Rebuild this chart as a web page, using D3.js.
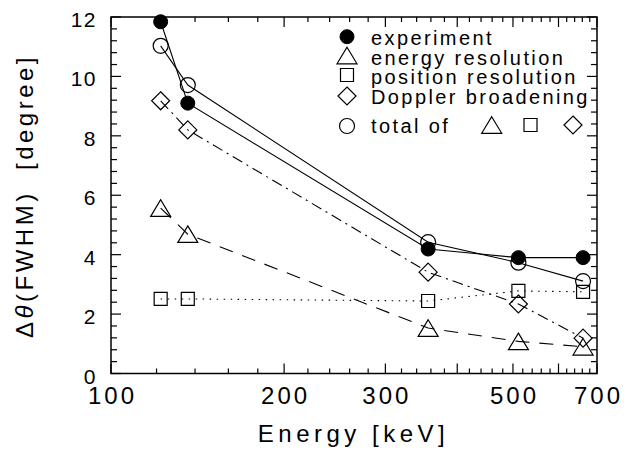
<!DOCTYPE html>
<html>
<head>
<meta charset="utf-8">
<script src="https://cdn.jsdelivr.net/npm/d3@7"></script>
<style>
  html, body { margin: 0; padding: 0; background: #fff; }
  svg { display: block; }
  text { font-family: "Liberation Sans", Arial, Helvetica, sans-serif; fill: #000; }
</style>
</head>
<body>
<svg id="chart" width="624" height="452"></svg>
<script>
// Gamma-ray energies of the calibration lines [keV]
const energies = [122, 136, 356, 511, 662];

// Angular resolution Δθ (FWHM) [degree]
const experiment = [11.84, 9.10, 4.19, 3.90, 3.90];
const energyResolution = [5.57, 4.69, 1.53, 1.08, 0.90];
const positionResolution = [2.51, 2.51, 2.44, 2.78, 2.75];
const dopplerBroadening = [9.18, 8.20, 3.41, 2.34, 1.19];
const totalOfThree = [11.03, 9.71, 4.42, 3.73, 3.11];

// Axis ticks and labels
const xTickValues = d3.range(100, 701, 20);
const xMajorTicks = [100, 200, 300, 400, 500, 600, 700];
const xTickLabels = [100, 200, 300, 500, 700];
const yTickValues = d3.range(0, 12.0001, 0.4);
const yTickLabels = [0, 2, 4, 6, 8, 10, 12];

const legendLabels = ["experiment", "energy resolution", "position resolution", "Doppler broadening", "total of"];

const svg = d3.select("#chart");
const plotLeft = 111, plotRight = 597, plotTop = 17, plotBottom = 373.5;

const x = d3.scaleLog().domain([100, 700]).range([plotLeft, plotRight]);
const y = d3.scaleLinear().domain([0, 12]).range([plotBottom, plotTop]);

const isMajorX = v => xMajorTicks.includes(v);
const isMajorY = v => Math.abs(v / 2 - Math.round(v / 2)) < 1e-6;

// Ticks on all four sides, pointing inwards
const ticks = svg.append("g").attr("stroke", "#000").attr("stroke-width", 1.2);
xTickValues.forEach(v => {
  const len = isMajorX(v) ? 10 : 5;
  const px = x(v);
  ticks.append("line").attr("x1", px).attr("x2", px).attr("y1", plotBottom).attr("y2", plotBottom - len);
  ticks.append("line").attr("x1", px).attr("x2", px).attr("y1", plotTop).attr("y2", plotTop + len);
});
yTickValues.forEach(v => {
  const len = isMajorY(v) ? 10 : 6;
  const py = y(v);
  ticks.append("line").attr("x1", plotLeft).attr("x2", plotLeft + len).attr("y1", py).attr("y2", py);
  ticks.append("line").attr("x1", plotRight).attr("x2", plotRight - len).attr("y1", py).attr("y2", py);
});

// Frame
svg.append("rect")
  .attr("x", plotLeft).attr("y", plotTop)
  .attr("width", plotRight - plotLeft).attr("height", plotBottom - plotTop)
  .attr("fill", "none").attr("stroke", "#000").attr("stroke-width", 1.5);

// Tick labels
svg.append("g").selectAll("text").data(xTickLabels).join("text")
  .attr("x", d => x(d) + 1.5)
  .attr("y", 404)
  .attr("text-anchor", "middle")
  .attr("font-size", 24)
  .attr("letter-spacing", 3)
  .text(d => d);

svg.append("g").selectAll("text").data(yTickLabels).join("text")
  .attr("x", 97)
  .attr("y", d => y(d) + 10)
  .attr("text-anchor", "end")
  .attr("font-size", 21)
  .attr("letter-spacing", 1.5)
  .text(d => d);

// Axis titles
svg.append("text")
  .attr("x", 353.5).attr("y", 441.5)
  .attr("text-anchor", "middle")
  .attr("font-size", 24)
  .attr("letter-spacing", 4.5)
  .text("Energy [keV]");

const yTitle = svg.append("text")
  .attr("transform", "translate(33,196) rotate(-90)")
  .attr("text-anchor", "middle")
  .attr("font-size", 24)
  .attr("letter-spacing", 3.5)
  .style("white-space", "pre");
yTitle.append("tspan").text("Δ");
yTitle.append("tspan").attr("font-style", "italic").text("θ");
yTitle.append("tspan").text("(FWHM)  [degree]");

// Series lines
const line = d3.line().x(d => x(d[0])).y(d => y(d[1]));
const series = [
  { values: energyResolution, dash: "14,10" },
  { values: positionResolution, dash: "1.5,5.5" },
  { values: dopplerBroadening, dash: "11,5,2,5" },
  { values: totalOfThree, dash: null },
  { values: experiment, dash: null }
];
const lines = svg.append("g").attr("fill", "none").attr("stroke", "#000").attr("stroke-width", 1.1);
series.forEach(s => {
  lines.append("path")
    .datum(energies.map((e, i) => [e, s.values[i]]))
    .attr("d", line)
    .attr("stroke-dasharray", s.dash);
});

// Marker shapes
const markers = {
  triangle: "M0,-8.3L10,8.3L-10,8.3Z",
  square: "M-6.5,-6.5H6.5V6.5H-6.5Z",
  diamond: "M0,-9L9,0L0,9L-9,0Z"
};
function drawMarker(g, kind, cx, cy) {
  if (kind === "filled") {
    g.append("circle").attr("cx", cx).attr("cy", cy).attr("r", 7)
      .attr("fill", "#000").attr("stroke", "#000");
  } else if (kind === "open") {
    g.append("circle").attr("cx", cx).attr("cy", cy).attr("r", 7.5)
      .attr("fill", "none").attr("stroke", "#000").attr("stroke-width", 1.2);
  } else {
    g.append("path").attr("d", markers[kind])
      .attr("transform", `translate(${cx},${cy})`)
      .attr("fill", "none").attr("stroke", "#000").attr("stroke-width", 1.2);
  }
}

const pts = svg.append("g");
const markerSeries = [
  { values: energyResolution, kind: "triangle" },
  { values: positionResolution, kind: "square" },
  { values: dopplerBroadening, kind: "diamond" },
  { values: totalOfThree, kind: "open" },
  { values: experiment, kind: "filled" }
];
markerSeries.forEach(s => {
  energies.forEach((e, i) => drawMarker(pts, s.kind, x(e), y(s.values[i])));
});

// Legend
const legend = svg.append("g");
const legendKinds = ["filled", "triangle", "square", "diamond", "open"];
const legendMarkerY = [36.7, 55.5, 75, 96, 126];
const legendBaseline = [45, 64.5, 84, 103.5, 133];
legendKinds.forEach((k, i) => {
  drawMarker(legend, k, 347, legendMarkerY[i]);
  legend.append("text")
    .attr("x", 371).attr("y", legendBaseline[i])
    .attr("font-size", 20)
    .attr("letter-spacing", 2.4)
    .text(legendLabels[i]);
});
// "total of" followed by the three component symbols
[["triangle", 491.7], ["square", 530.5], ["diamond", 573]].forEach(([k, cx]) => {
  drawMarker(legend, k, cx, 125);
});
</script>
</body>
</html>
